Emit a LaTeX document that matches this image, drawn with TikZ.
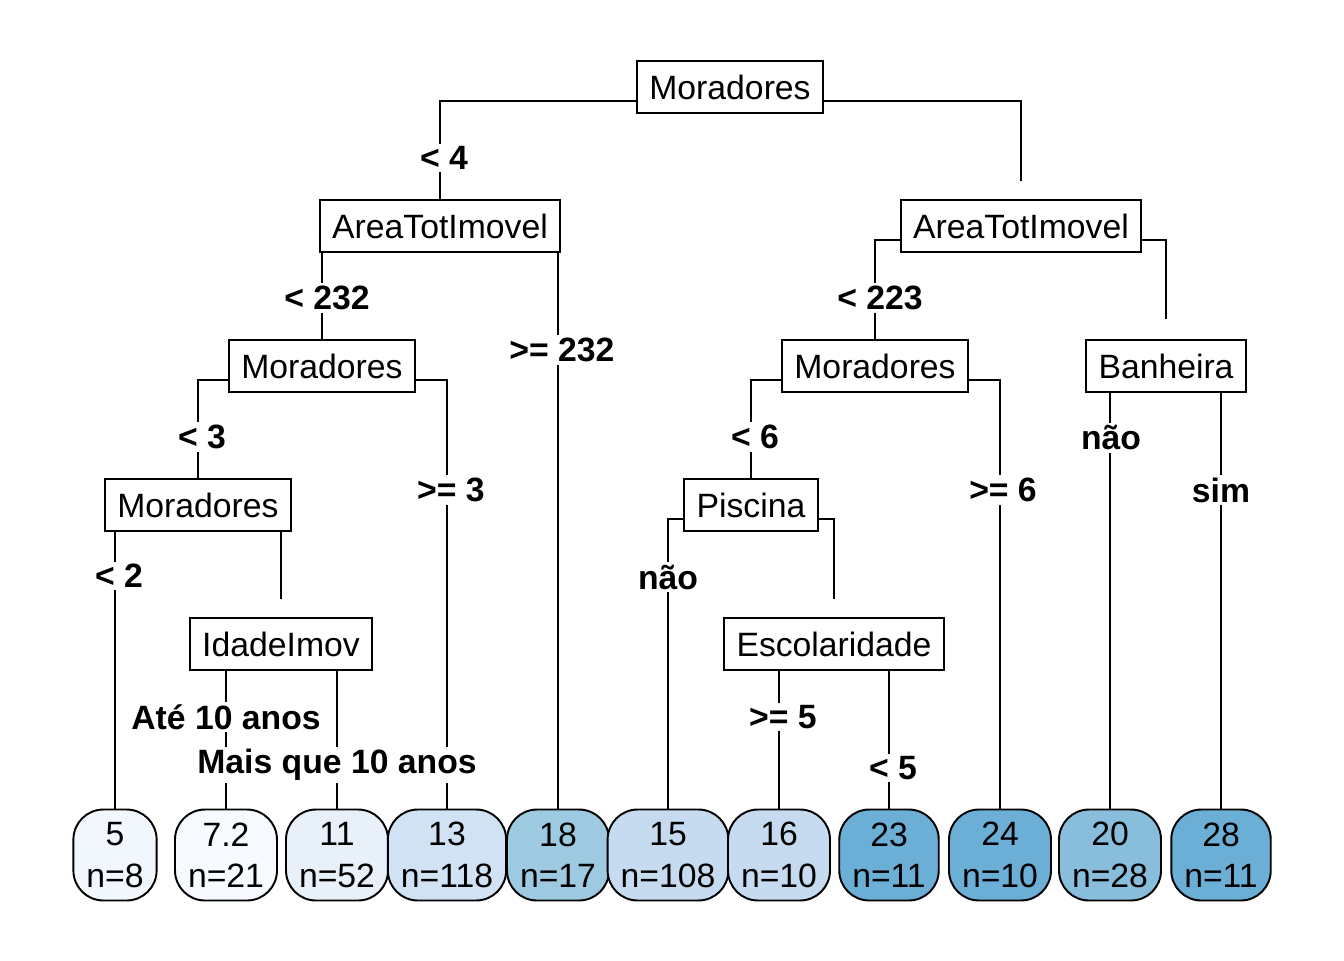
\documentclass[tikz,border=0pt]{standalone}
\usepackage{fontspec}
\setmainfont{Liberation Sans}
\usetikzlibrary{backgrounds}
\definecolor{leafa}{HTML}{F2F7FD}
\definecolor{leafb}{HTML}{F7FBFF}
\definecolor{leafc}{HTML}{E8F0FA}
\definecolor{leafd}{HTML}{D0E2F3}
\definecolor{leafe}{HTML}{9DC9E1}
\definecolor{leaff}{HTML}{C6DBEF}
\definecolor{leafg}{HTML}{6BAED6}
\definecolor{leafh}{HTML}{88BEDC}
\tikzset{
  split/.style={draw, fill=white, line width=1.1pt, inner xsep=0.25cm, minimum height=1.04cm},
  leaf/.style={draw, line width=1.1pt, rounded corners=0.6cm, inner xsep=0.26cm,
    minimum height=1.82cm, align=center, font=\fontsize{19.2}{23.5}\selectfont},
  lbl/.style={fill=white, inner sep=1.5pt, font=\fontsize{19.2}{22}\selectfont\bfseries},
  branch/.style={line width=1.1pt},
}
\begin{document}
\begin{tikzpicture}[x=0.02cm, y=-0.02cm, font=\fontsize{19.2}{22}\selectfont]
  \useasboundingbox (0,0) rectangle (1344,960);
  % Split nodes
  \node[split] (root) at (730,87) {Moradores};
  \node[split] (areaL) at (440,226) {AreaTotImovel};
  \node[split] (areaR) at (1021,226) {AreaTotImovel};
  \node[split] (morL) at (322,366) {Moradores};
  \node[split] (morR) at (875,366) {Moradores};
  \node[split] (banh) at (1166,366) {Banheira};
  \node[split] (morLL) at (198,505) {Moradores};
  \node[split] (pisc) at (751,505) {Piscina};
  \node[split] (idade) at (281,644) {IdadeImov};
  \node[split] (escol) at (834,644) {Escolaridade};
  % Leaves
  \node[leaf, fill=leafa] (l5) at (115,855) {5\\n=8};
  \node[leaf, fill=leafb] (l72) at (226,855) {7.2\\n=21};
  \node[leaf, fill=leafc] (l11) at (337,855) {11\\n=52};
  \node[leaf, fill=leafd] (l13) at (447,855) {13\\n=118};
  \node[leaf, fill=leafe] (l18) at (558,855) {18\\n=17};
  \node[leaf, fill=leaff] (l15) at (668,855) {15\\n=108};
  \node[leaf, fill=leaff] (l16) at (779,855) {16\\n=10};
  \node[leaf, fill=leafg] (l23) at (889,855) {23\\n=11};
  \node[leaf, fill=leafg] (l24) at (1000,855) {24\\n=10};
  \node[leaf, fill=leafh] (l20) at (1110,855) {20\\n=28};
  \node[leaf, fill=leafg] (l28) at (1221,855) {28\\n=11};
  % Branches
  \begin{scope}[on background layer]
  \begin{scope}[branch]
    \draw ([yshift=0.26cm]root.south west) -| (areaL.north);
    \draw[shorten >=0.36cm] ([yshift=0.26cm]root.south east) -| (areaR.north);
    \draw ([yshift=0.26cm]areaL.south west) -| (morL.north);
    \draw ([yshift=0.26cm]areaL.south east) -| (l18.north);
    \draw ([yshift=0.26cm]areaR.south west) -| (morR.north);
    \draw[shorten >=0.4cm] ([yshift=0.26cm]areaR.south east) -| (banh.north);
    \draw ([yshift=0.26cm]morL.south west) -| (morLL.north);
    \draw ([yshift=0.26cm]morL.south east) -| (l13.north);
    \draw ([yshift=0.26cm]morR.south west) -| (pisc.north);
    \draw ([yshift=0.26cm]morR.south east) -| (l24.north);
    \draw ([yshift=0.26cm]banh.south west) -| (l20.north);
    \draw ([yshift=0.26cm]banh.south east) -| (l28.north);
    \draw ([yshift=0.26cm]morLL.south west) -| (l5.north);
    \draw[shorten >=0.36cm] ([yshift=0.26cm]morLL.south east) -| (idade.north);
    \draw ([yshift=0.26cm]pisc.south west) -| (l15.north);
    \draw[shorten >=0.36cm] ([yshift=0.26cm]pisc.south east) -| (escol.north);
    \draw ([yshift=0.26cm]idade.south west) -| (l72.north);
    \draw ([yshift=0.26cm]idade.south east) -| (l11.north);
    \draw ([yshift=0.26cm]escol.south west) -| (l16.north);
    \draw ([yshift=0.26cm]escol.south east) -| (l23.north);
  \end{scope}
  \end{scope}
  % Branch labels
  \node[lbl] (lblA) at (444,158) {< 4};
  \node[lbl] (lblB) at (327,298) {< 232};
  \node[lbl] (lblC) at (562,350) {>= 232};
  \node[lbl] (lblD) at (880,298) {< 223};
  \node[lbl] (lblE) at (202,437) {< 3};
  \node[lbl] (lblF) at (451,490) {>= 3};
  \node[lbl] (lblG) at (755,437) {< 6};
  \node[lbl] (lblH) at (1003,490) {>= 6};
  \node[lbl] (lblI) at (1111,438) {não};
  \node[lbl] (lblJ) at (1221,490) {sim};
  \node[lbl] (lblK) at (119,576) {< 2};
  \node[lbl] (lblL) at (668,577) {não};
  \node[lbl] (lblM) at (226,717) {Até 10 anos};
  \node[lbl] (lblN) at (337,765) {Mais que 10 anos};
  \node[lbl] (lblO) at (783,717) {>= 5};
  \node[lbl] (lblP) at (893,768) {< 5};
\end{tikzpicture}
\end{document}
